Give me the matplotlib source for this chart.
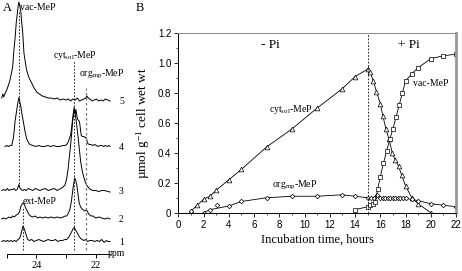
import matplotlib
matplotlib.use("Agg")
import matplotlib.pyplot as plt
from matplotlib.ticker import MultipleLocator, FixedLocator

SERIF = ["Liberation Serif", "DejaVu Serif"]
SANS = ["Liberation Sans", "DejaVu Sans"]
plt.rcParams['mathtext.fontset'] = 'custom'
plt.rcParams['mathtext.rm'] = 'Liberation Serif'
plt.rcParams['mathtext.it'] = 'Liberation Serif:italic'

# ---------------- Panel A data (31P NMR spectra, ppm vs intensity) ----------------
spec_labels = ["1", "2", "3", "4", "5"]
spec_offsets = [12.8, 35.3, 63.8, 107.8, 153.3]

ppm1 = [25.17, 25.10, 25.04, 24.98, 24.92, 24.86, 24.80, 24.74, 24.68, 24.62, 24.57, 24.53, 24.49, 24.46, 24.43,
        24.40, 24.37, 24.33, 24.29, 24.24, 24.16, 24.08, 24.00, 23.92, 23.84, 23.76, 23.68, 23.60, 23.52, 23.44,
        23.36, 23.28, 23.20, 23.12, 23.04, 22.98, 22.92, 22.86, 22.81, 22.76, 22.73, 22.69, 22.65, 22.61, 22.56,
        22.51, 22.46, 22.40, 22.34, 22.28, 22.20, 22.12, 22.04, 21.96, 21.88, 21.80, 21.72, 21.65, 21.58, 21.52]
int1 = [0, 1, 0, 1, 0, 1, 0, 1, 0, 2, 3, 6, 11, 15, 14, 12, 9, 5, 2, 1, 2, 0, 1, 2, 1, 0, 1, 2, 1, 1,
        2, 0, 1, 1, 2, 2, 4, 7, 10, 13, 14, 12, 10, 8, 5, 3, 2, 1, 2, 0, 1, 1, 0, 1, 0, 2, -1, 1, 0, 0]

ppm2 = [25.17, 25.10, 25.04, 24.98, 24.92, 24.86, 24.80, 24.74, 24.68, 24.62, 24.57, 24.52, 24.48, 24.44, 24.40,
        24.36, 24.31, 24.26, 24.20, 24.12, 24.04, 23.96, 23.88, 23.80, 23.70, 23.60, 23.50, 23.40, 23.30, 23.20,
        23.10, 23.03, 22.98, 22.92, 22.87, 22.82, 22.78, 22.74, 22.71, 22.68, 22.64, 22.60, 22.56, 22.51, 22.46,
        22.42, 22.37, 22.32, 22.29, 22.24, 22.16, 22.09, 22.00, 21.90, 21.80, 21.70, 21.60, 21.52]
int2 = [0, 1, 0, 1, 2, 1, 3, 2, 4, 5, 7, 13, 15, 16, 14, 11, 8, 5, 3, 2, 3, 1, 2, 1, 2, 1, 2, 1, 2, 1,
        2, 3, 3, 6, 10, 18, 28, 36, 41, 39, 34, 25, 16, 12, 10, 9, 8, 9, 8, 5, 3, 3, 1, 2, 1, 0, 1, 0]

ppm3 = [25.17, 25.10, 25.04, 24.98, 24.92, 24.86, 24.80, 24.75, 24.70, 24.65, 24.61, 24.59, 24.56, 24.52, 24.46,
        24.40, 24.34, 24.28, 24.20, 24.12, 24.04, 23.96, 23.88, 23.80, 23.70, 23.60, 23.50, 23.40, 23.30, 23.21,
        23.12, 23.04, 22.98, 22.93, 22.89, 22.85, 22.81, 22.78, 22.75, 22.73, 22.70, 22.67, 22.63, 22.59, 22.55,
        22.51, 22.46, 22.42, 22.36, 22.31, 22.25, 22.18, 22.09, 22.00, 21.90, 21.80, 21.70, 21.60, 21.52]
int3 = [0, 1, 0, 2, 0, 1, 1, 2, 0, 1, 4, 6, 3, 1, 0, 1, 0, 2, 1, 0, 2, 1, 0, 1, 2, 0, 1, 2, 0, 1.5,
        3, 5.5, 12, 22, 34, 45, 58, 69, 76, 80, 78, 72, 62, 52, 40, 29, 20, 15, 9, 5.5, 3, 1, 0, 0, -1,
        0, 0, -1, -1.5]

ppm4 = [25.06, 25.00, 24.94, 24.88, 24.83, 24.78, 24.75, 24.72, 24.68, 24.64, 24.61, 24.59, 24.56, 24.53, 24.49,
        24.44, 24.39, 24.33, 24.27, 24.22, 24.12, 24.02, 23.92, 23.82, 23.72, 23.62, 23.52, 23.42, 23.32, 23.22,
        23.12, 23.04, 22.98, 22.92, 22.88, 22.85, 22.81, 22.78, 22.75, 22.73, 22.71, 22.69, 22.67, 22.64, 22.61,
        22.58, 22.55, 22.52, 22.49, 22.45, 22.40, 22.36, 22.33, 22.30, 22.27, 22.22, 22.16, 22.10, 22.04, 21.98,
        21.92, 21.86, 21.80, 21.74, 21.68, 21.62, 21.56, 21.52]
int4 = [0, 1, 0, 1, 1, 8, 15, 25, 33, 41, 46, 49, 45, 41, 33, 25, 16, 8, 4, 2, 1, 0, 1, 0, 0, 1, 0, 1, 0, 0,
        1, 1, 2, 5, 9, 11, 20, 28, 35, 39, 36, 33, 37, 31, 27, 26, 25, 18, 11, 10, 10, 9, 9, 6, 3, 2, 2, 1, 2, 1,
        0, 1, 1, 0, 1, 0, 1, 0]

ppm5 = [25.17, 25.13, 25.10, 25.05, 25.00, 24.94, 24.89, 24.84, 24.80, 24.76, 24.72, 24.68, 24.64, 24.61, 24.59,
        24.56, 24.53, 24.50, 24.46, 24.42, 24.38, 24.33, 24.26, 24.16, 24.08, 23.99, 23.90, 23.80, 23.70, 23.60,
        23.50, 23.40, 23.30, 23.20, 23.10, 23.00, 22.92, 22.85, 22.78, 22.70, 22.62, 22.55, 22.48, 22.40, 22.34,
        22.30, 22.26, 22.20, 22.12, 22.05, 21.98, 21.90, 21.82, 21.75, 21.68, 21.60, 21.52]
int5 = [3, 7, 4, 8, 11, 16, 21, 28, 34, 50, 62, 78, 88, 96, 99, 95, 91, 80, 68, 48, 40, 31, 24, 18, 13, 9, 7, 5, 4, 3,
        3, 2, 3, 1, 2, 1, 2, 0, 2, 1, 3, 0, 1, 2, 3, 5, 3, 2, 0, 1, 2, 0, 1, 0, 2, 1, 0]

spec_ppm = [ppm1, ppm2, ppm3, ppm4, ppm5]
spec_int = [int1, int2, int3, int4, int5]

# reference shift lines (ppm) and their vertical extents (height units)
ref_names = ["vac", "ext", "cyt", "org"]
ref_ppm = [24.575, 24.44, 22.73, 22.33]
ref_lo = [67, 4, 4, 4]
ref_hi = [244, 46, 194, 166]

# ---------------- Panel B data (umol/g cell wet wt vs time) ----------------
cyt_t = [1, 1.5, 2, 2.5, 3, 4, 5, 7, 9, 11, 13, 14, 15, 15.2, 15.45, 15.7, 16, 16.2, 16.45, 16.7,
         16.95, 17.2, 17.45, 17.7, 18, 18.5, 19, 20]
cyt_v = [0.01, 0.05, 0.09, 0.11, 0.15, 0.22, 0.29, 0.44, 0.56, 0.70, 0.83, 0.91, 0.96, 0.94, 0.88, 0.81,
         0.73, 0.65, 0.56, 0.49, 0.40, 0.35, 0.31, 0.25, 0.18, 0.10, 0.06, 0.0]

vac_t = [14, 15, 15.2, 15.4, 15.6, 15.8, 16, 16.25, 16.5, 16.75, 17, 17.25, 17.5, 17.75, 18, 18.5, 19, 20, 21, 22]
vac_v = [0.02, 0.04, 0.05, 0.06, 0.07, 0.16, 0.24, 0.33, 0.41, 0.49, 0.56, 0.64, 0.72, 0.80, 0.88, 0.93,
         0.97, 1.03, 1.05, 1.06]

org_t = [2, 2.5, 4, 5, 7, 9, 11, 13, 14, 15, 15.25, 15.5, 15.75, 16, 16.2, 16.4, 16.6, 16.8, 17, 17.2,
         17.4, 17.6, 17.8, 18, 18.5, 19, 20, 21, 22]
org_v = [0.0, 0.02, 0.045, 0.075, 0.10, 0.11, 0.11, 0.12, 0.11, 0.10, 0.10, 0.10, 0.12, 0.10, 0.10, 0.10,
         0.10, 0.10, 0.10, 0.10, 0.10, 0.10, 0.10, 0.095, 0.09, 0.08, 0.06, 0.05, 0.04]
org_extra_t = [1, 3.1]
org_extra_v = [0.01, 0.05]

pi_switch = 15
y_ticks = [0, 0.2, 0.4, 0.6, 0.8, 1.0, 1.2]
y_ticklabels = ["0", "0.2", "0.4", "0.6", "0.8", "1.0", "1.2"]
x_ticks = list(range(0, 23, 2))

W, H = 462, 271
fig = plt.figure(figsize=(W / 100, H / 100), dpi=100)

# ================= Panel A =================
axA = fig.add_axes([0, (H - 254.3) / H, 125 / W, 254.3 / H])
axA.set_xlim(25.226, 21.017)
axA.set_ylim(0, 254.3)
for p, v, off in zip(spec_ppm, spec_int, spec_offsets):
    axA.plot(p, [off + a for a in v], color="black", lw=0.7, clip_on=False)
for name, x, lo, hi in zip(ref_names, ref_ppm, ref_lo, ref_hi):
    col = "#777777" if name == "org" else "black"
    lw = 0.9 if name == "org" else 0.6
    axA.plot([x, x], [lo, hi], color=col, lw=lw, ls=(0, (2, 2)))
for lab, off in zip(spec_labels, spec_offsets):
    axA.text(21.22, off - 1, lab, fontsize=7, family=SERIF, ha="left", va="center")
axA.text(24.553, 247.3, "vac-MeP", fontsize=7, family=SERIF, ha="left", va="center")
axA.text(23.44, 199.3, r"cyt$_{\rm sol}$-MeP", fontsize=7, family=SERIF, ha="left", va="center")
axA.text(22.566, 180.3, r"org$_{\rm mp}$-MeP", fontsize=7, family=SERIF, ha="left", va="center")
axA.text(24.45, 52.3, "ext-MeP", fontsize=7, family=SERIF, ha="left", va="center")
axA.text(21.59, 0.3, "ppm", fontsize=7, family=SERIF, ha="left", va="center")
for s in ["top", "right", "left"]:
    axA.spines[s].set_visible(False)
axA.spines["bottom"].set_bounds(21.52, 25.0)
axA.spines["bottom"].set_linewidth(0.7)
axA.set_yticks([])
axA.xaxis.set_major_locator(FixedLocator([25, 24, 23, 22]))
axA.set_xticklabels(["", "24", "", "22"], family=SERIF, fontsize=7.5)
axA.tick_params(axis="x", direction="out", length=3, width=0.7, pad=2)
axA.patch.set_alpha(0)
fig.text(3 / W, 1 - 2 / H, "A", fontsize=9, family=SERIF, ha="left", va="top")

# ================= Panel B =================
axB = fig.add_axes([178.3 / W, (H - 212.7) / H, (456 - 178.3) / W, (212.7 - 33.3) / H])
axB.set_xlim(0, 22)
axB.set_ylim(0, 1.2)
lk = dict(color="black", lw=0.6, mfc="white", mec="black", mew=0.5)
axB.plot(cyt_t, cyt_v, marker="^", ms=3.4, **lk)
axB.plot(org_t, org_v, marker="D", ms=2.3, **lk)
axB.plot(org_extra_t, org_extra_v, ls="none", marker="D", ms=2.3, mfc="white", mec="black", mew=0.5)
axB.plot(vac_t, vac_v, marker="s", ms=3.0, **lk)
axB.axvline(pi_switch, color="black", lw=0.6, ls=(0, (2, 2)))

axB.text(7.3, 1.12, "- Pi", fontsize=9.5, family=SERIF, ha="center", va="center")
axB.text(18.3, 1.12, "+ Pi", fontsize=9.5, family=SERIF, ha="center", va="center")
axB.text(7.15, 0.69, r"cyt$_{\rm sol}$-MeP", fontsize=7, family=SERIF, ha="left", va="center")
axB.text(18.6, 0.865, "vac-MeP", fontsize=7, family=SERIF, ha="left", va="center")
axB.text(7.42, 0.18, r"org$_{\rm mp}$-MeP", fontsize=7, family=SERIF, ha="left", va="center")

axB.set_yticks(y_ticks)
axB.set_yticklabels(y_ticklabels, family=SANS, fontsize=7)
axB.set_xticks(x_ticks)
axB.set_xticklabels([str(t) for t in x_ticks], family=SANS, fontsize=7)
axB.xaxis.set_minor_locator(MultipleLocator(1))
axB.yaxis.set_minor_locator(MultipleLocator(0.1))
axB.tick_params(which="major", direction="out", length=3, width=0.6, pad=2)
axB.tick_params(which="minor", direction="out", length=1.5, width=0.5)
axB.spines["left"].set_linewidth(0.7)
axB.spines["bottom"].set_linewidth(0.7)
axB.spines["top"].set_color("#888888")
axB.spines["top"].set_linewidth(0.7)
axB.spines["right"].set_color("#999999")
axB.spines["right"].set_linewidth(2)
axB.set_xlabel("Incubation time, hours", family=SERIF, fontsize=9, labelpad=3)
axB.set_ylabel(r"µmol g$^{-1}$ cell wet wt", family=SERIF, fontsize=9.5, labelpad=4)
fig.text(136 / W, 1 - 2 / H, "B", fontsize=9, family=SERIF, ha="left", va="top")

fig.savefig("out.png", dpi=100)
